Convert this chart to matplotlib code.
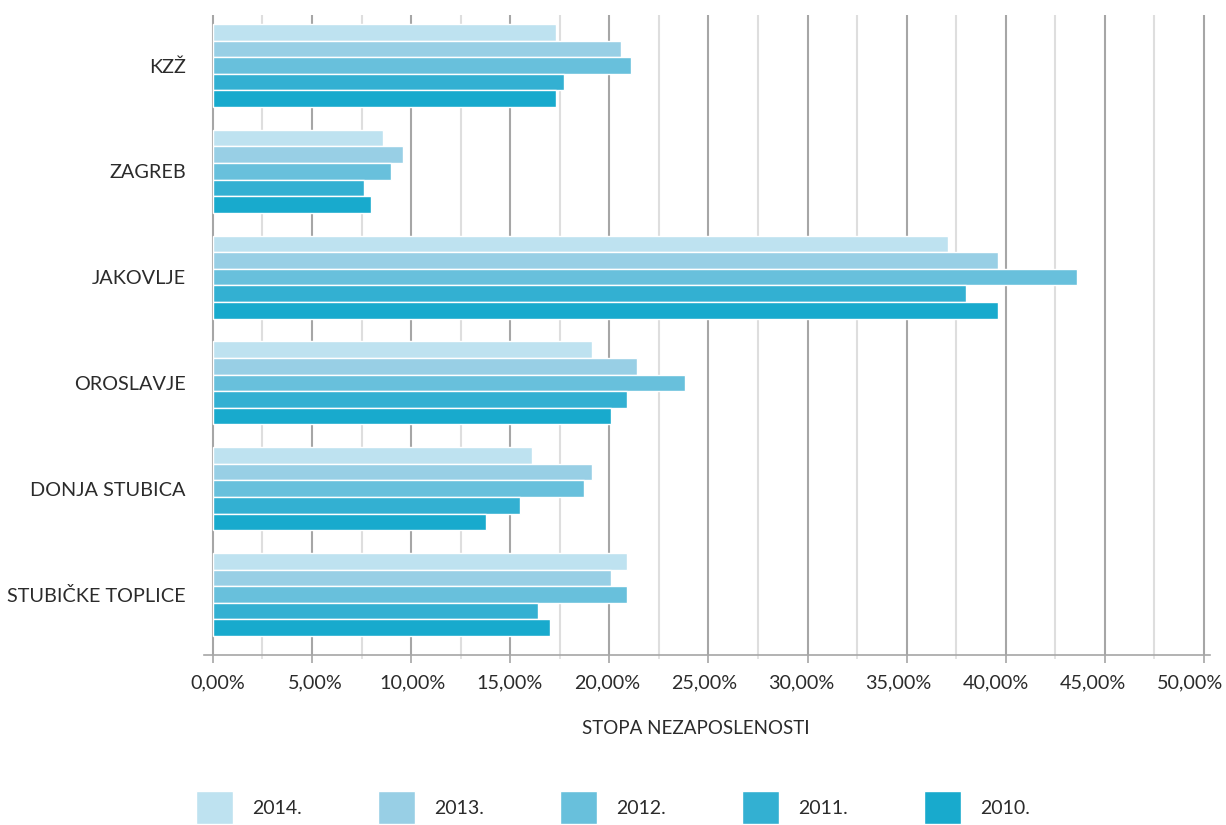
import numpy as np
import matplotlib.pyplot as plt
from matplotlib.ticker import MultipleLocator, FuncFormatter
from matplotlib.transforms import ScaledTranslation

plt.rcParams['font.family'] = ['Lato', 'DejaVu Sans']

# Podaci: stopa nezaposlenosti (%) po godinama
mjesta = ['KZŽ', 'ZAGREB', 'JAKOVLJE', 'OROSLAVJE', 'DONJA STUBICA', 'STUBIČKE TOPLICE']
godine = ['2014.', '2013.', '2012.', '2011.', '2010.']
s2014 = [17.3, 8.6, 37.1, 19.1, 16.1, 20.9]
s2013 = [20.6, 9.6, 39.6, 21.4, 19.1, 20.1]
s2012 = [21.1, 9.0, 43.6, 23.8, 18.7, 20.9]
s2011 = [17.7, 7.6, 38.0, 20.9, 15.5, 16.4]
s2010 = [17.3, 8.0, 39.6, 20.1, 13.8, 17.0]
boje = ['#bee2f0', '#98cfe5', '#68c0dc', '#33b0d2', '#18aacd']

fig = plt.figure(figsize=(12.26, 8.25), dpi=100)
ax = fig.add_axes([0.1664, 0.2061, 0.8205, 0.7757])

y = np.arange(len(mjesta))
h = 0.157
serije = [s2014, s2013, s2012, s2011, s2010]
for i, (vals, lab, c) in enumerate(zip(serije, godine, boje)):
    ax.barh(y + (i - 2) * h, vals, height=h, color=c, edgecolor='white',
            linewidth=1, label=lab, zorder=3)

ax.set_xlim(-0.45, 50.3)
ax.set_ylim(5.572, -0.477)
ax.xaxis.set_major_locator(MultipleLocator(5))
ax.xaxis.set_minor_locator(MultipleLocator(2.5))
ax.xaxis.set_major_formatter(FuncFormatter(lambda v, p: f'{v:.2f}%'.replace('.', ',')))
ax.grid(axis='x', which='major', color='#a6a6a6', linewidth=1.5, zorder=0)
ax.grid(axis='x', which='minor', color='#dedede', linewidth=1.5, zorder=0)
ax.set_axisbelow(True)

for s in ['top', 'right', 'left']:
    ax.spines[s].set_visible(False)
ax.spines['bottom'].set_color('#a6a6a6')
ax.spines['bottom'].set_linewidth(1.2)

ax.set_yticks(y)
ax.set_yticklabels(mjesta, fontsize=14.3, color='#2b2b2b')
ax.tick_params(axis='y', length=0, pad=13)
ax.tick_params(axis='x', which='major', length=6, color='#a6a6a6', width=1.2,
               labelsize=14.2, labelcolor='#2b2b2b', pad=8)
ax.tick_params(axis='x', which='minor', length=3, color='#dedede', width=1.2)

# oznake na x-osi u originalu su malo pomaknute (desno na 0 %, lijevo na 50 %)
fig.canvas.draw()
for v, t in zip(ax.get_xticks(), ax.get_xticklabels()):
    dx = (5 - 19 * v / 50) / 100
    t.set_transform(t.get_transform() + ScaledTranslation(dx, 0, fig.dpi_scale_trans))

ax.set_xlabel('STOPA NEZAPOSLENOSTI', fontsize=13.5, color='#2b2b2b', labelpad=28)
ax.xaxis.set_label_coords(0.489, -0.102)

fig.legend(loc='center', bbox_to_anchor=(0.5, 0.021), ncol=5, frameon=False,
           fontsize=14, handlelength=1.9, handleheight=2.2, handletextpad=0.95,
           columnspacing=3.95, labelcolor='#2b2b2b')

plt.savefig('out.png', dpi=100)
